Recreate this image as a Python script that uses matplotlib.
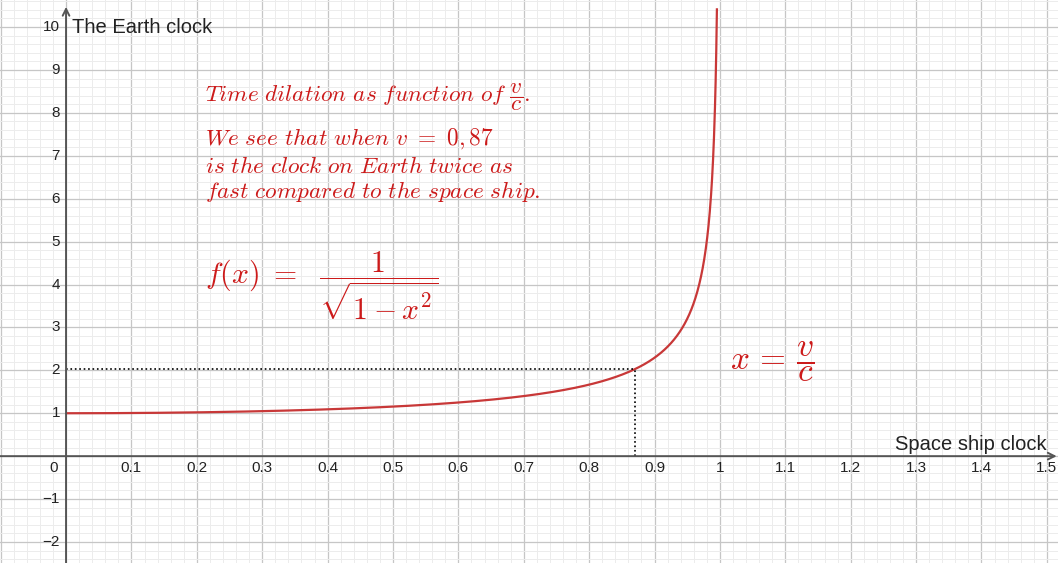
import numpy as np
import matplotlib.pyplot as plt

plt.rcParams['mathtext.fontset'] = 'cm'

# axis tick values
x_ticks = [0.1, 0.2, 0.3, 0.4, 0.5, 0.6, 0.7, 0.8, 0.9, 1, 1.1, 1.2, 1.3, 1.4, 1.5]
y_ticks = [-2, -1, 1, 2, 3, 4, 5, 6, 7, 8, 9, 10]

# speed ratio marked on the curve
v_mark = 0.87


def dilation(x):
    return 1.0 / np.sqrt(1.0 - x**2)


red = '#cc1a1a'
curve_col = '#c83838'
axis_col = '#555555'

fig = plt.figure(figsize=(10.58, 5.63), dpi=100)
ax = fig.add_axes([0, 0, 1, 1])

# grid (ticks first, set_xticks would otherwise widen the limits)
ax.set_xticks(np.arange(-0.1, 1.55, 0.1))
ax.set_xticks(np.arange(-0.1, 1.52, 0.02), minor=True)
ax.set_yticks(np.arange(-2, 11, 1))
ax.set_yticks(np.arange(-2.4, 10.62, 0.2), minor=True)
ax.set_xlim(-0.101, 1.517)
ax.set_ylim(-2.49, 10.63)
ax.grid(which='major', color='#c6c6c6', lw=0.9)
ax.grid(which='minor', color='#ececec', lw=0.7)
ax.set_axisbelow(True)
ax.tick_params(which='both', length=0, labelbottom=False, labelleft=False)
for s in ax.spines.values():
    s.set_visible(False)

# axes with arrow heads
ax.annotate('', xy=(1.515, 0), xytext=(-0.101, 0),
            arrowprops=dict(arrowstyle='->', color=axis_col, lw=1.4,
                            shrinkA=0, shrinkB=0, mutation_scale=12))
ax.annotate('', xy=(0, 10.47), xytext=(0, -2.49),
            arrowprops=dict(arrowstyle='->', color=axis_col, lw=1.4,
                            shrinkA=0, shrinkB=0, mutation_scale=12))

tick_font = dict(family='Liberation Sans', fontsize=11, color='#222222')
for xt in x_ticks:
    ax.annotate('{:g}'.format(xt), (xt, 0), xytext=(0, -5), textcoords='offset pixels',
                ha='center', va='top', **tick_font)
for yt in y_ticks:
    ax.annotate('{:g}'.format(yt).replace('-', '\u2212'), (0, yt), xytext=(-6, 0),
                textcoords='offset pixels', ha='right', va='center', **tick_font)
ax.annotate('0', (0, 0), xytext=(-8, -5), textcoords='offset pixels',
            ha='right', va='top', **tick_font)

ax.annotate('The Earth clock', (0, 10), xytext=(6, 0), textcoords='offset pixels',
            ha='left', va='center', family='Liberation Sans', fontsize=14.5, color='#222222')
ax.annotate('Space ship clock', (1.5, 0), xytext=(0, 2), textcoords='offset pixels',
            ha='right', va='bottom', family='Liberation Sans', fontsize=14.5, color='#222222')

# time dilation curve
x = np.linspace(0, 0.9954, 2000)
ax.plot(x, dilation(x), color=curve_col, lw=1.6, solid_capstyle='butt')

# dotted guides at v/c = 0.87
y_mark = dilation(v_mark)
ax.plot([0, v_mark], [y_mark, y_mark], color='black', ls=':', lw=1.2)
ax.plot([v_mark, v_mark], [0, y_mark], color='black', ls=':', lw=1.2)

# annotations
ax.text(0.2125, 8.23, r'$Time\ dilation\ as\ function\ of\ \dfrac{v}{c}.$',
        color=red, fontsize=16.8, ha='left', va='baseline')
ax.text(0.2125, 7.25, r'$We\ see\ that\ when\ v\ =\ 0,87$',
        color=red, fontsize=16.8, ha='left', va='baseline')
ax.text(0.2125, 6.60, r'$is\ the\ clock\ on\ Earth\ twice\ as$',
        color=red, fontsize=16.8, ha='left', va='baseline')
ax.text(0.2125, 6.01, r'$fast\ compared\ to\ the\ space\ ship.$',
        color=red, fontsize=16.8, ha='left', va='baseline')

ax.text(0.2125, 3.96, r'$f(x)\ =\ \ \dfrac{1}{\sqrt{1-x^2}}$',
        color=red, fontsize=21.5, ha='left', va='center')
ax.text(1.015, 2.19, r'$x\,=\,\dfrac{v}{c}$',
        color=red, fontsize=24, ha='left', va='center')

fig.savefig('out.png', dpi=100)
